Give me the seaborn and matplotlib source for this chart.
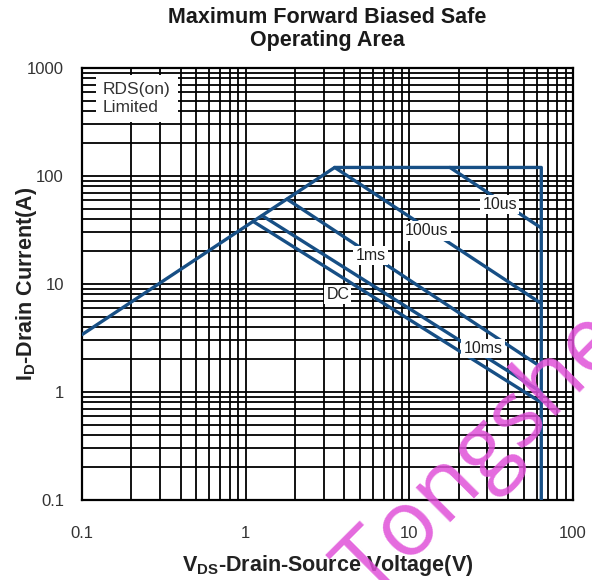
import matplotlib
matplotlib.use("Agg")
import matplotlib.pyplot as plt
import seaborn as sns
import pandas as pd
import numpy as np

# ---- data ----
outline_v = [0.1, 3.5, 64, 64]
outline_i = [3.4, 120, 120, 0.1]

us10_v = [17.7, 64]
us10_i = [120, 33]
us100_v = [3.5, 64]
us100_i = [120, 6.6]
ms1_v = [1.79, 64]
ms1_i = [61, 1.7]
ms10_v = [1.26, 64]
ms10_i = [43, 1.0]
dc_v = [1.11, 64]
dc_i = [38, 0.8]

curve_labels = ["10us", "100us", "1ms", "DC", "10ms"]
label_v = [35.7, 12.8, 5.8, 3.66, 28.2]
label_i = [54, 31, 18.5, 8.0, 2.55]

x_ticks = [0.1, 1, 10, 100]
x_ticklabels = ["0.1", "1", "10", "100"]
y_ticks = [0.1, 1, 10, 100, 1000]
y_ticklabels = ["0.1", "1", "10", "100", "1000"]

segments = {
    "limit": (outline_v, outline_i),
    "10us": (us10_v, us10_i),
    "100us": (us100_v, us100_i),
    "1ms": (ms1_v, ms1_i),
    "10ms": (ms10_v, ms10_i),
    "DC": (dc_v, dc_i),
}
rows = []
for name, (vs, is_) in segments.items():
    for k, (v, i) in enumerate(zip(vs, is_)):
        rows.append({"seg": name, "order": k, "V": v, "I": i})
df = pd.DataFrame(rows)

sns.set_theme(style="white")
plt.rcParams["font.family"] = ["Liberation Sans", "DejaVu Sans"]

fig = plt.figure(figsize=(5.92, 5.80), dpi=100)
ax = fig.add_axes([82 / 592, 1 - 500 / 580, 491 / 592, 432 / 580])

ax.set_xscale("log")
ax.set_yscale("log")
ax.set_xlim(0.1, 100)
ax.set_ylim(0.1, 1000)

line_color = "#174f85"
sns.lineplot(data=df, x="V", y="I", units="seg", estimator=None, sort=False,
             color=line_color, linewidth=2.4, ax=ax, legend=False, zorder=3)

ax.set_axisbelow(True)
ax.grid(which="both", color="black", linewidth=1.3)
for s in ax.spines.values():
    s.set_color("black")
    s.set_linewidth(1.6)

ax.set_xticks(x_ticks)
ax.set_xticklabels(x_ticklabels)
ax.set_yticks(y_ticks)
ax.set_yticklabels(y_ticklabels)
ax.tick_params(which="both", length=0, labelsize=12, colors="#333333", pad=13)
ax.tick_params(axis="x", pad=19)

for lab, v, i in zip(curve_labels, label_v, label_i):
    ax.text(v, i, lab, ha="center", va="center", fontsize=11.5, color="#222222",
            zorder=5, bbox=dict(facecolor="white", edgecolor="none", pad=1.5))

ax.text(0.043, 0.968, "RDS(on)\nLimited", transform=ax.transAxes, ha="left", va="top",
        fontsize=12.5, color="#333333", linespacing=1.3, zorder=5,
        bbox=dict(facecolor="white", edgecolor="none", pad=5))

ax.set_xlabel(r"V$_{\mathregular{DS}}$-Drain-Source Voltage(V)", fontsize=15.5,
              fontweight="bold", color="#222222")
ax.xaxis.set_label_coords(0.5, -53 / 432)
ax.set_ylabel(r"I$_{\mathregular{D}}$-Drain Current(A)", fontsize=15.5,
              fontweight="bold", color="#222222")
ax.yaxis.set_label_coords(-43 / 491, 0.5)

fig.text(0.553, 1 - 7 / 580, "Maximum Forward Biased Safe\nOperating Area", ha="center",
         va="top", fontsize=15.5, fontweight="bold", color="#1a1a1a", linespacing=1.12)

# watermark
fig.text(354 / 592, 1 - 584 / 580, "Tongshe", rotation=45, rotation_mode="anchor",
         ha="left", va="center", fontsize=66, color="#e050d8", alpha=0.85,
         family=["Open Sans", "DejaVu Sans"], zorder=10)

fig.savefig("out.png", dpi=100)
